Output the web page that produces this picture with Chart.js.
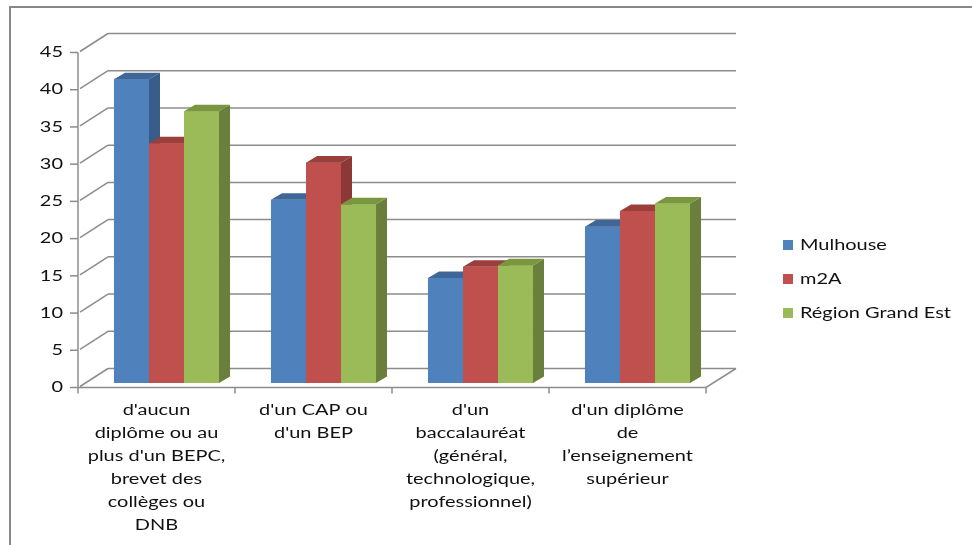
<!DOCTYPE html>
<html>
<head>
<meta charset="utf-8">
<script src="https://cdn.jsdelivr.net/npm/chart.js@4.4.1/dist/chart.umd.min.js"></script>
<style>
  html, body { margin: 0; padding: 0; background: #fff; }
  canvas { display: block; }
</style>
</head>
<body>
<canvas id="chart" width="972" height="545"></canvas>
<script>
const categories = [
    ["d'aucun", "diplôme ou au", "plus d'un BEPC,", "brevet des", "collèges ou", "DNB"],
    ["d'un CAP ou", "d'un BEP"],
    ["d'un", "baccalauréat", "(général,", "technologique,", "professionnel)"],
    ["d'un diplôme", "de", "l’enseignement", "supérieur"]
];
const seriesNames = ["Mulhouse", "m2A", "Région Grand Est"];
const mulhouse = [40.8, 24.6, 14.1, 21.0];
const m2a = [32.2, 29.6, 15.6, 23.1];
const grandEst = [36.5, 24.0, 15.8, 24.1];
const yTicks = [0, 5, 10, 15, 20, 25, 30, 35, 40, 45];

const fronts = ["#4F81BD", "#C0504D", "#9BBB59"];
const sides = ["#385D8A", "#8C3836", "#6B7F3C"];
const tops = ["#3E6797", "#9A3F3C", "#7A963F"];

// offsets of the 3d box relative to the plane the bars stand on
const FRONT = { dx: -10, dy: 4.5 };
const BACK = { dx: 20, dy: -14.5 };
const DEPTH = { dx: 11, dy: -6.6 };
const FONT = "14.5px Lato";
let textScale = 1.4;

function wideText(ctx, txt, x, y, align) {
    const w = ctx.measureText(txt).width * textScale;
    let left = x;
    if (align === "center") left = x - w / 2;
    else if (align === "right") left = x - w;
    ctx.save();
    ctx.translate(left, y);
    ctx.scale(textScale, 1);
    ctx.textAlign = "left";
    ctx.fillText(txt, 0, 0);
    ctx.restore();
}

const box3d = {
    id: "box3d",
    beforeDatasetsDraw(chart) {
        const { ctx, chartArea: a, scales: { y } } = chart;
        ctx.save();
        ctx.lineCap = "butt";

        // outer frame
        ctx.strokeStyle = "#888";
        ctx.lineWidth = 2;
        ctx.beginPath();
        ctx.moveTo(10, 545); ctx.lineTo(10, 7); ctx.lineTo(972, 7);
        ctx.stroke();

        const fl = a.left + FRONT.dx, fr = a.right + FRONT.dx;
        const bl = a.left + BACK.dx, br = a.right + BACK.dx;

        ctx.strokeStyle = "#8c8c8c";
        ctx.lineWidth = 1.5;
        yTicks.forEach(v => {
            const p = y.getPixelForValue(v);
            ctx.beginPath();
            ctx.moveTo(bl, p + BACK.dy); ctx.lineTo(br, p + BACK.dy);
            ctx.stroke();
            ctx.beginPath();
            ctx.moveTo(fl + 2, p + FRONT.dy - 1); ctx.lineTo(bl, p + BACK.dy);
            ctx.stroke();
            ctx.beginPath();
            ctx.moveTo(fl - 8, p + FRONT.dy); ctx.lineTo(fl, p + FRONT.dy);
            ctx.stroke();
        });

        // front axis and floor
        const f0 = y.getPixelForValue(0) + FRONT.dy;
        const b0 = y.getPixelForValue(0) + BACK.dy;
        ctx.beginPath();
        ctx.moveTo(fl, y.getPixelForValue(45) + FRONT.dy);
        ctx.lineTo(fl, f0 + 6);
        ctx.stroke();
        ctx.beginPath();
        ctx.moveTo(fl, f0); ctx.lineTo(fr, f0); ctx.lineTo(br, b0);
        ctx.stroke();
        const step = (fr - fl) / categories.length;
        for (let i = 1; i <= categories.length; i++) {
            ctx.beginPath();
            ctx.moveTo(fl + i * step, f0); ctx.lineTo(fl + i * step, f0 + 6);
            ctx.stroke();
        }
        ctx.restore();
    },
    afterDatasetsDraw(chart) {
        const { ctx, chartArea: a, scales: { y } } = chart;
        ctx.save();

        // bars with side and top faces, left to right
        chart.data.datasets.forEach((ds, i) => {
            chart.getDatasetMeta(i).data.forEach(bar => {
                const { x, y: top, base, width } = bar.getProps(["x", "y", "base", "width"], true);
                const l = x - width / 2, r = x + width / 2;
                ctx.fillStyle = fronts[i];
                ctx.fillRect(l, top, width, base - top);
                ctx.fillStyle = sides[i];
                ctx.beginPath();
                ctx.moveTo(r, top); ctx.lineTo(r + DEPTH.dx, top + DEPTH.dy);
                ctx.lineTo(r + DEPTH.dx, base + DEPTH.dy); ctx.lineTo(r, base);
                ctx.closePath(); ctx.fill();
                ctx.fillStyle = tops[i];
                ctx.beginPath();
                ctx.moveTo(l, top); ctx.lineTo(r, top);
                ctx.lineTo(r + DEPTH.dx, top + DEPTH.dy); ctx.lineTo(l + DEPTH.dx, top + DEPTH.dy);
                ctx.closePath(); ctx.fill();
            });
        });

        ctx.font = FONT;
        ctx.fillStyle = "#111";
        ctx.textBaseline = "middle";
        textScale = 151 / ctx.measureText("Région Grand Est").width;

        // y tick labels on the front axis
        yTicks.forEach(v => {
            wideText(ctx, String(v), a.left + FRONT.dx - 15, y.getPixelForValue(v) + FRONT.dy, "right");
        });

        // category labels
        const fl = a.left + FRONT.dx, fr = a.right + FRONT.dx;
        const step = (fr - fl) / categories.length;
        categories.forEach((lines, i) => {
            lines.forEach((t, k) => {
                wideText(ctx, t, fl + (i + 0.5) * step, 410 + k * 23, "center");
            });
        });

        // legend
        seriesNames.forEach((name, i) => {
            const cy = 245 + i * 34;
            ctx.fillStyle = fronts[i];
            ctx.fillRect(783, cy - 5, 10, 10);
            ctx.fillStyle = "#111";
            wideText(ctx, name, 800, cy, "left");
        });
        ctx.restore();
    }
};

new Chart(document.getElementById("chart"), {
    type: "bar",
    data: {
        labels: categories,
        datasets: [
            { label: seriesNames[0], data: mulhouse, backgroundColor: fronts[0] },
            { label: seriesNames[1], data: m2a, backgroundColor: fronts[1] },
            { label: seriesNames[2], data: grandEst, backgroundColor: fronts[2] }
        ]
    },
    options: {
        responsive: false,
        animation: false,
        events: [],
        layout: { padding: { left: 88, right: 256, top: 48, bottom: 162 } },
        datasets: { bar: { categoryPercentage: 0.669, barPercentage: 1, borderWidth: 0 } },
        scales: {
            x: { display: false },
            y: { display: false, min: 0, max: 45 }
        },
        plugins: { legend: { display: false }, tooltip: { enabled: false } }
    },
    plugins: [box3d]
});
</script>
</body>
</html>
